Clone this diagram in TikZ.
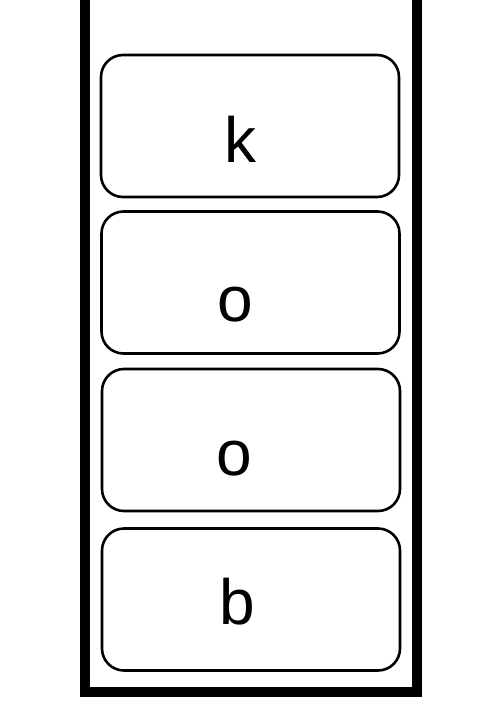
\documentclass[tikz,border=0pt]{standalone}
\usepackage{fontspec}
\setmainfont{Liberation Sans}
\usepackage{tikz}

\tikzset{
  cell/.style={draw, line width=2.6pt, rounded corners=22pt, minimum width=298pt, minimum height=142pt, inner sep=0pt},
  letter/.style={anchor=base, inner sep=0pt, font=\fontsize{64}{64}\selectfont}
}

\begin{document}
\begin{tikzpicture}[x=1pt, y=-1pt]
    \useasboundingbox (0,0) rectangle (503,714);
    % stack walls
    \draw[line width=10pt, miter limit=10]
    (85,-10) -- (85,692) -- (417,692) -- (417,-10);
    % cells
    \node[cell] (top) at (250,126) {};
    \node[cell] (second) at (250.5,282.5) {};
    \node[cell] (third) at (251,440) {};
    \node[cell] (bottom) at (251,599.5) {};
    \node[letter] (ktext) at (240,163) {k};
    \node[letter] (otext) at (235.5,321) {o};
    \node[letter] (otextb) at (234.7,475) {o};
    \node[letter] (btext) at (237,624) {b};
  \end{tikzpicture}
\end{document}
